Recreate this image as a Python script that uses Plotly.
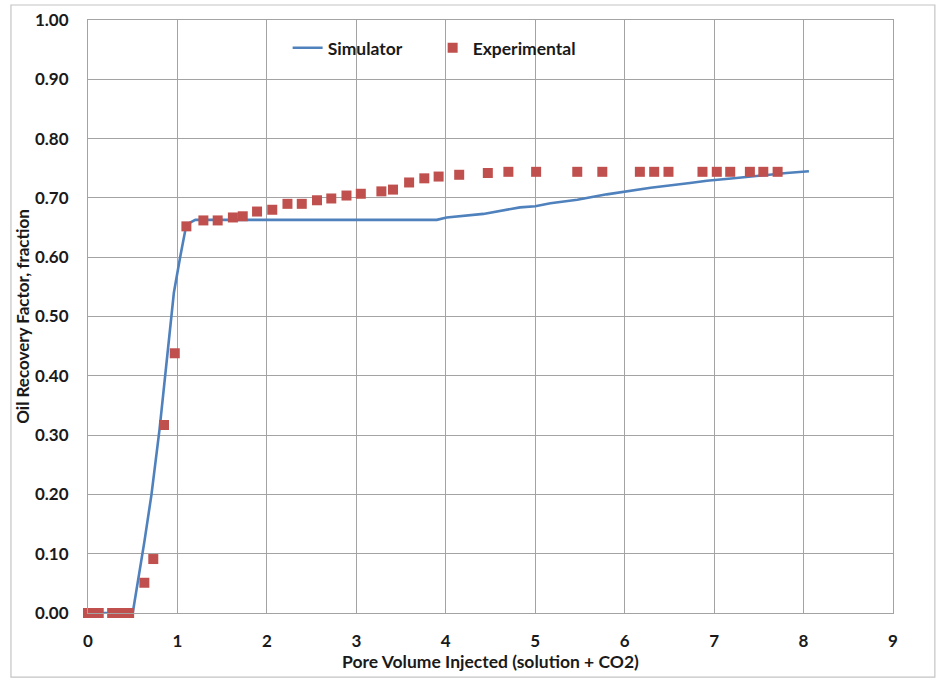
import plotly.graph_objects as go

# Simulated recovery curve
sim_pv = [0.0, 0.5, 0.63, 0.71, 0.80, 0.88, 0.96, 1.03, 1.10, 1.20, 3.90, 4.01, 4.42,
          4.83, 5.00, 5.17, 5.47, 5.80, 6.02, 6.29, 6.73, 6.92, 7.22, 7.59, 7.81, 8.06]
sim_rf = [0.0, 0.0, 0.12, 0.20, 0.31, 0.42, 0.54, 0.60, 0.655, 0.663, 0.663, 0.667, 0.673,
          0.684, 0.686, 0.691, 0.697, 0.706, 0.711, 0.717, 0.725, 0.729, 0.733, 0.739, 0.742, 0.745]

# Laboratory measurements
exp_pv = [0.0, 0.07, 0.12, 0.27, 0.36, 0.46, 0.63, 0.73, 0.85, 0.97, 1.10, 1.29, 1.45,
          1.62, 1.73, 1.89, 2.06, 2.23, 2.39, 2.56, 2.72, 2.89, 3.05, 3.28, 3.41, 3.59,
          3.76, 3.92, 4.15, 4.47, 4.70, 5.01, 5.47, 5.75, 6.17, 6.33, 6.49, 6.87, 7.03,
          7.18, 7.40, 7.55, 7.71]
exp_rf = [0.0, 0.0, 0.0, 0.0, 0.0, 0.0, 0.051, 0.091, 0.317, 0.438, 0.652, 0.662, 0.662,
          0.667, 0.669, 0.677, 0.680, 0.690, 0.690, 0.696, 0.699, 0.704, 0.707, 0.711,
          0.714, 0.726, 0.733, 0.736, 0.739, 0.742, 0.744, 0.744, 0.744, 0.744, 0.744,
          0.744, 0.744, 0.744, 0.744, 0.744, 0.744, 0.744, 0.744]

x_ticks = [0, 1, 2, 3, 4, 5, 6, 7, 8, 9]
y_ticks = [0.0, 0.1, 0.2, 0.3, 0.4, 0.5, 0.6, 0.7, 0.8, 0.9, 1.0]

FONT = "Lato"
GRID = "#a3a3a3"

fig = go.Figure()
fig.add_trace(go.Scatter(
    x=sim_pv, y=sim_rf, mode="lines", name="Simulator",
    line=dict(color="#4F81BD", width=2.6),
))
fig.add_trace(go.Scatter(
    x=exp_pv, y=exp_rf, mode="markers", name="Experimental",
    marker=dict(symbol="square", size=10, color="#C0504D", line=dict(width=0)),
    cliponaxis=False,
))

fig.update_layout(
    width=937, height=679,
    margin=dict(l=88, r=44, t=20, b=66, autoexpand=False),
    paper_bgcolor="white", plot_bgcolor="white",
    font=dict(family=FONT, color="#1a1a1a", size=16),
    legend=dict(
        orientation="h", x=0.248, y=0.953, xanchor="left", yanchor="middle",
        font=dict(family=FONT, size=17.5, color="#1a1a1a", weight="bold"),
        bgcolor="rgba(0,0,0,0)", itemwidth=30, entrywidth=100,
    ),
    xaxis=dict(
        range=[0, 9], tickvals=x_ticks, ticktext=[str(v) for v in x_ticks],
        showgrid=True, gridcolor=GRID, gridwidth=1.2,
        showline=True, linecolor=GRID, linewidth=1.2, mirror=True,
        zeroline=False, ticks="", ticklabelstandoff=12, automargin=False,
        tickfont=dict(family=FONT, size=17, weight="bold"),
        title=dict(text="Pore Volume Injected (solution + CO2)", standoff=6,
                   font=dict(family=FONT, size=17.5, weight="bold")),
    ),
    yaxis=dict(
        range=[0, 1], tickvals=y_ticks, ticktext=[f"{v:.2f}" for v in y_ticks],
        showgrid=True, gridcolor=GRID, gridwidth=1.2,
        showline=True, linecolor=GRID, linewidth=1.2, mirror=True,
        zeroline=False, ticks="", ticklabelstandoff=15, automargin=False,
        tickfont=dict(family=FONT, size=17, weight="bold"),
        title=dict(text="Oil Recovery Factor, fraction", standoff=0,
                   font=dict(family=FONT, size=17, weight="bold")),
    ),
    shapes=[dict(
        type="rect", xref="paper", yref="paper",
        x0=-0.0957, x1=1.052, y0=-0.108, y1=1.0253,
        line=dict(color="#c4c4c4", width=1.2), fillcolor="rgba(0,0,0,0)", layer="below",
    )],
)

fig.write_html("out.html")
